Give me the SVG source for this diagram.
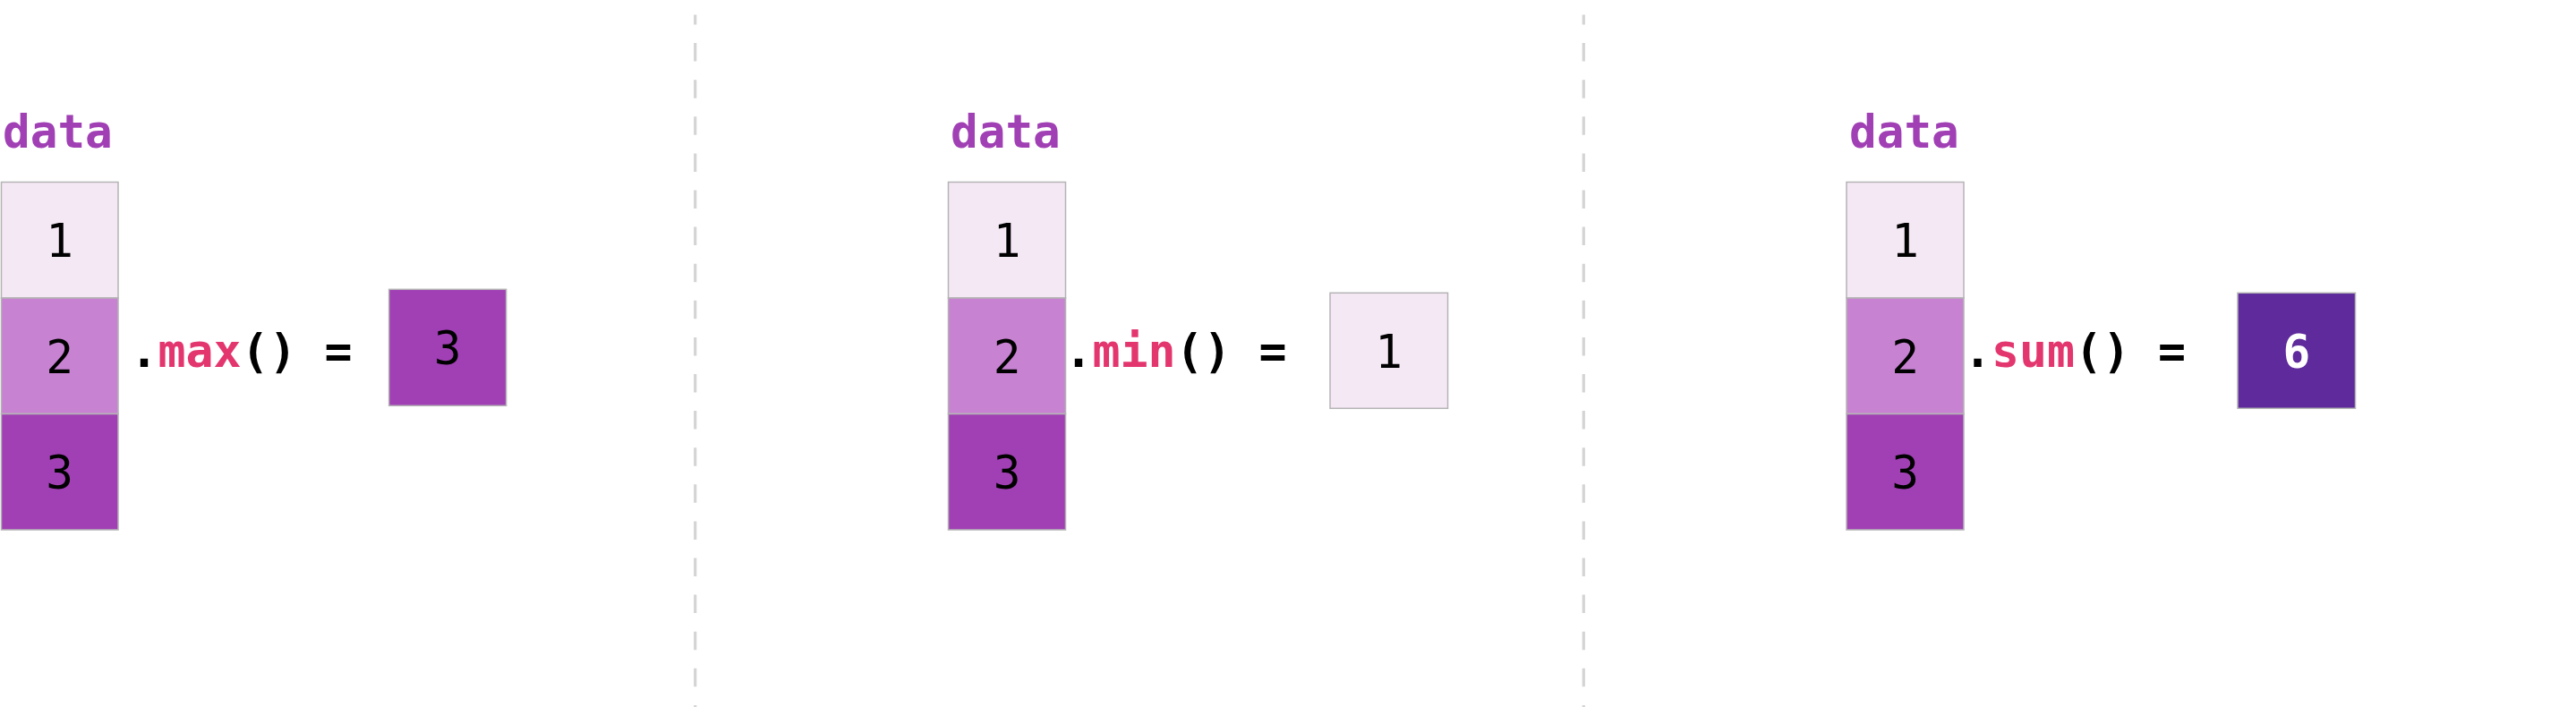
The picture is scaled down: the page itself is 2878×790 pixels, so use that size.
<svg xmlns="http://www.w3.org/2000/svg" width="2878" height="790" viewBox="0 0 2878 790">
<style>
.bg{fill:#ffffff}
.c1{fill:#f5e8f5;stroke:#b4b4b4;stroke-width:1.5}
.c2{fill:#c882d2;stroke:#b4b4b4;stroke-width:1.5}
.c3{fill:#a040b4;stroke:#b4b4b4;stroke-width:1.5}
.c4{fill:#5e2a9c;stroke:#b4b4b4;stroke-width:1.5}
.num{font-family:"DejaVu Sans Mono","Liberation Mono",monospace;font-size:51px;fill:#000;text-anchor:middle}
.numw{font-family:"DejaVu Sans Mono","Liberation Mono",monospace;font-size:51px;font-weight:bold;fill:#fff;text-anchor:middle}
.lbl{font-family:"DejaVu Sans Mono","Liberation Mono",monospace;font-size:51px;font-weight:bold;fill:#a040b4}
.expr{font-family:"DejaVu Sans Mono","Liberation Mono",monospace;font-size:51.5px;font-weight:bold;fill:#000}
.fn{fill:#e3366f}
.div{stroke:#d4d4d4;stroke-width:3.2;stroke-dasharray:20.5 20.6;stroke-dashoffset:9.6;fill:none}
</style>
<rect class="bg" x="0" y="0" width="2878" height="790"/>
<g id="dividers">
<line class="div" x1="776.7" y1="16.6" x2="776.7" y2="790"/>
<line class="div" x1="1769.3" y1="16.6" x2="1769.3" y2="790"/>
</g>
<g id="panel-max">
<text class="lbl" x="3" y="165">data</text>
<rect class="c1" x="1.5" y="203.5" width="130.5" height="129.5"/>
<rect class="c2" x="1.5" y="333" width="130.5" height="129.5"/>
<rect class="c3" x="1.5" y="462.5" width="130.5" height="129.5"/>
<text class="num" x="66.5" y="287">1</text>
<text class="num" x="66.5" y="416.5">2</text>
<text class="num" x="66.5" y="546">3</text>
<text class="expr" x="145.5" y="410">.<tspan class="fn">max</tspan>() =</text>
<rect class="c3" x="434.6" y="323.3" width="131" height="130"/>
<text class="num" x="500" y="407">3</text>
</g>
<g id="panel-min">
<text class="lbl" x="1062" y="165">data</text>
<rect class="c1" x="1059.5" y="203.5" width="131" height="129.5"/>
<rect class="c2" x="1059.5" y="333" width="131" height="129.5"/>
<rect class="c3" x="1059.5" y="462.5" width="131" height="129.5"/>
<text class="num" x="1125" y="287">1</text>
<text class="num" x="1125" y="416.5">2</text>
<text class="num" x="1125" y="546">3</text>
<text class="expr" x="1189.5" y="410">.<tspan class="fn">min</tspan>() =</text>
<rect class="c1" x="1486" y="327.3" width="131.5" height="129"/>
<text class="num" x="1551.7" y="410.5">1</text>
</g>
<g id="panel-sum">
<text class="lbl" x="2066" y="165">data</text>
<rect class="c1" x="2063" y="203.5" width="131" height="129.5"/>
<rect class="c2" x="2063" y="333" width="131" height="129.5"/>
<rect class="c3" x="2063" y="462.5" width="131" height="129.5"/>
<text class="num" x="2128.5" y="287">1</text>
<text class="num" x="2128.5" y="416.5">2</text>
<text class="num" x="2128.5" y="546">3</text>
<text class="expr" x="2194" y="410">.<tspan class="fn">sum</tspan>() =</text>
<rect class="c4" x="2500" y="327.3" width="131.5" height="129"/>
<text class="numw" x="2565.8" y="410.5">6</text>
</g>
</svg>
